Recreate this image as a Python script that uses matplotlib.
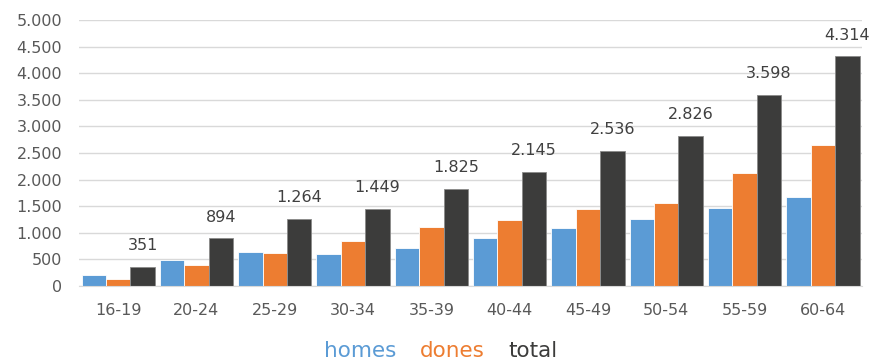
import matplotlib.pyplot as plt
import numpy as np
from matplotlib.ticker import FuncFormatter, MultipleLocator

plt.rcParams['font.family'] = ['DejaVu Sans']

groups = ['16-19', '20-24', '25-29', '30-34', '35-39', '40-44', '45-49', '50-54', '55-59', '60-64']
homes = [211, 494, 645, 605, 715, 897, 1090, 1260, 1474, 1668]
dones = [140, 400, 619, 844, 1110, 1248, 1446, 1566, 2124, 2646]
total = [351, 894, 1264, 1449, 1825, 2145, 2536, 2826, 3598, 4314]

def dot_thousands(v, pos=None):
    return f'{v:,.0f}'.replace(',', '.')

fig = plt.figure(figsize=(8.71, 3.62), dpi=100)
ax = fig.add_axes([0.0907, 0.21, 0.899, 0.735])

x = np.arange(len(groups))
w = 0.312
b1 = ax.bar(x - w, homes, w, color='#5B9BD5', edgecolor='white', linewidth=0.6, label='homes')
b2 = ax.bar(x, dones, w, color='#ED7D31', edgecolor='white', linewidth=0.6, label='dones')
b3 = ax.bar(x + w, total, w, color='#3C3C3B', edgecolor='#8a8a8a', linewidth=0.6, label='total')

ax.bar_label(b3, labels=[dot_thousands(v) for v in total], padding=10,
             fontsize=11.5, color='#404040')

ax.set_xlim(-0.5, len(groups) - 0.5)
ax.set_ylim(0, 5000)
ax.yaxis.set_major_locator(MultipleLocator(500))
ax.yaxis.set_major_formatter(FuncFormatter(dot_thousands))
ax.set_xticks(x)
ax.set_xticklabels(groups)
ax.tick_params(axis='both', length=0, labelsize=11.5, colors='#595959')
ax.tick_params(axis='x', pad=12)
ax.tick_params(axis='y', pad=12)

ax.grid(axis='y', color='#d9d9d9', linewidth=1)
ax.set_axisbelow(True)
for s in ['top', 'right', 'left']:
    ax.spines[s].set_visible(False)
ax.spines['bottom'].set_color('#d9d9d9')

leg = ax.legend(loc='center', bbox_to_anchor=(0.462, -0.245), ncol=3, frameon=False,
                handlelength=0, handletextpad=0, columnspacing=1.1, fontsize=15.5)
for h in leg.legend_handles:
    h.set_visible(False)
for t, c in zip(leg.get_texts(), ['#5B9BD5', '#ED7D31', '#3C3C3B']):
    t.set_color(c)

fig.savefig('out.png', dpi=100)
